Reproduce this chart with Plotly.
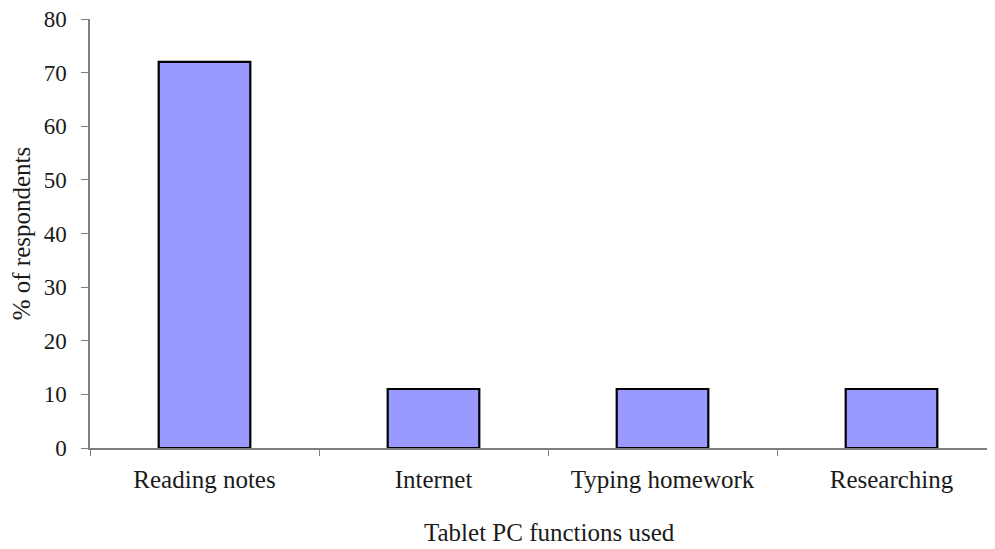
import plotly.graph_objects as go

categories = ["Reading notes", "Internet", "Typing homework", "Researching"]
values = [72, 11, 11, 11]
y_ticks = [0, 10, 20, 30, 40, 50, 60, 70, 80]

# page has an 8px body margin; compensate so the plot lands where the reference has it
OFF = 8
W, H = 995 - OFF, 549 - OFF
L, R, T, B = 90 - OFF, 0, 19 - OFF, 549 - 448
band_px = 229
plot_w = W - L - R
plot_h = H - T - B
x_max = -0.5 + plot_w / band_px

fig = go.Figure(go.Bar(
    x=categories, y=values, width=0.4,
    marker=dict(color="#9999FF", line=dict(color="#000000", width=2.2)),
))

font = "Liberation Serif, Times New Roman, serif"
fig.update_layout(
    width=W, height=H,
    margin=dict(l=L, r=R, t=T, b=B),
    paper_bgcolor="white", plot_bgcolor="white",
    showlegend=False,
    font=dict(family=font, color="#1a1a1a"),
    xaxis=dict(
        range=[-0.5, x_max], showline=True, linecolor="#808080", linewidth=1.5,
        ticks="outside", tickson="boundaries", ticklen=6, tickcolor="#808080",
        ticklabelstandoff=8,
        tickfont=dict(size=25, family=font, color="#1a1a1a"),
        showgrid=False, zeroline=False,
    ),
    yaxis=dict(
        range=[0, 80], tickvals=y_ticks, showline=True, linecolor="#808080", linewidth=1.5,
        ticks="outside", ticklen=7, tickcolor="#808080", ticklabelstandoff=10,
        ticklabeloverflow="allow",
        tickfont=dict(size=23, family=font, color="#1a1a1a"),
        title=dict(text="% of respondents", font=dict(size=25, family=font, color="#1a1a1a"), standoff=12),
        showgrid=False, zeroline=False,
    ),
    annotations=[dict(
        text="Tablet PC functions used", xref="paper", yref="paper",
        x=(549 - 90) / plot_w, y=-(532 - 448) / plot_h,
        xanchor="center", yanchor="middle", showarrow=False,
        font=dict(size=25, family=font, color="#1a1a1a"),
    )],
)

fig.write_html("out.html")
